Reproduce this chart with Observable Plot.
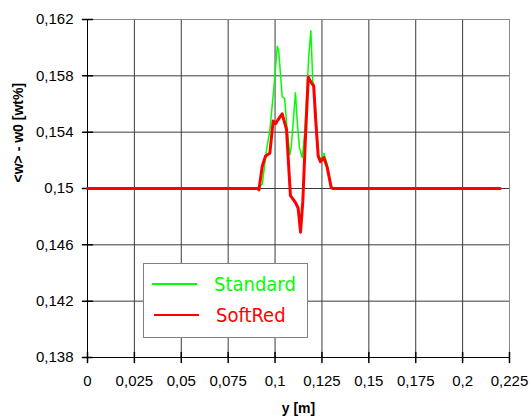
<!DOCTYPE html>
<html>
<head>
<meta charset="utf-8">
<script src="https://cdn.jsdelivr.net/npm/d3@7"></script>
<script src="https://cdn.jsdelivr.net/npm/@observablehq/plot@0.6"></script>
<style>
  html, body { margin: 0; padding: 0; background: #fff; }
  #wrap { position: relative; width: 531px; height: 416px; }
  #legend {
    position: absolute; left: 143px; top: 263px; width: 163px; height: 73px;
    border: 1px solid #808080; background: #fff; box-sizing: content-box;
    font-family: "DejaVu Sans Condensed", "DejaVu Sans", sans-serif; font-size: 20px;
  }
  #legend .row { position: absolute; left: 0; height: 24px; display: flex; align-items: center; }
  #legend .swatch { position: absolute; width: 45px; }
  #legend .txt { position: absolute; white-space: nowrap; line-height: 24px; }
</style>
</head>
<body>
<div id="wrap"></div>
<script>
// ---- data ----
const xTicks = [0, 0.025, 0.05, 0.075, 0.1, 0.125, 0.15, 0.175, 0.2, 0.225];
const yTicks = [0.138, 0.142, 0.146, 0.15, 0.154, 0.158, 0.162];
const xLabel = "y [m]";
const yLabel = "<w> - w0 [wt%]";
const seriesNames = ["Standard", "SoftRed"];
const seriesColors = ["#00ff00", "#ff0000"];

const standardX = [0, 0.0908, 0.0932, 0.0955, 0.0972, 0.0994, 0.1012, 0.1020, 0.1038, 0.1051, 0.1065, 0.1079, 0.1086, 0.1100, 0.1109, 0.1118, 0.1130, 0.1145, 0.1159, 0.1171, 0.1180, 0.1191, 0.1201, 0.1216, 0.1230, 0.1242, 0.1260, 0.1278, 0.1295, 0.1304, 0.22];
const standardY = [0.15, 0.15, 0.1503, 0.1528, 0.1541, 0.1572, 0.1601, 0.1597, 0.1565, 0.1564, 0.1541, 0.1524, 0.1529, 0.1553, 0.1568, 0.1548, 0.1529, 0.1522, 0.1541, 0.1572, 0.1595, 0.1612, 0.1576, 0.1557, 0.1524, 0.1521, 0.1525, 0.1517, 0.1503, 0.15, 0.15];

const softRedX = [0, 0.0908, 0.0914, 0.0932, 0.0949, 0.0972, 0.0990, 0.1003, 0.1012, 0.1038, 0.1061, 0.1082, 0.1109, 0.1123, 0.1136, 0.1148, 0.1162, 0.1177, 0.1194, 0.1206, 0.1216, 0.1230, 0.1242, 0.1260, 0.1278, 0.1299, 0.1308, 0.22];
const softRedY = [0.15, 0.15, 0.1499, 0.1516, 0.1523, 0.1525, 0.1548, 0.1546, 0.1548, 0.1553, 0.1542, 0.1495, 0.1490, 0.1486, 0.1469, 0.1491, 0.1536, 0.1579, 0.1575, 0.1573, 0.1550, 0.1523, 0.1519, 0.1522, 0.1515, 0.1501, 0.15, 0.15];

// ---- build ----
const standard = standardX.map((x, i) => ({x, y: standardY[i]}));
const softRed = softRedX.map((x, i) => ({x, y: softRedY[i]}));
const xDomain = [xTicks[0], xTicks[xTicks.length - 1]];
const yDomain = [yTicks[0], yTicks[yTicks.length - 1]];
const fmt = d => String(d).replace(".", ",");
const tickShape = { draw(context, l) { context.moveTo(0, 0); context.lineTo(0, -l); } };
const tickFont = "'Liberation Sans', Arial, sans-serif";

const chart = Plot.plot({
  width: 531,
  height: 416,
  marginLeft: 87,
  marginRight: 22,
  marginTop: 19,
  marginBottom: 59,
  style: { background: "#fff", color: "#000" },
  x: { domain: xDomain, axis: null },
  y: { domain: yDomain, axis: null },
  marks: [
    Plot.gridX(xTicks, { stroke: "#3a3a3a", strokeOpacity: 1 }),
    Plot.gridY(yTicks, { stroke: "#3a3a3a", strokeOpacity: 1 }),
    Plot.frame({ stroke: "#8a8a8a" }),
    Plot.ruleX([xDomain[0]], { stroke: "#000" }),
    Plot.ruleY([yDomain[0]], { stroke: "#000" }),
    Plot.vector(xTicks, { x: d => d, y: yDomain[0], length: 10, rotate: 0, anchor: "middle", shape: tickShape, stroke: "#000" }),
    Plot.vector(yTicks, { x: xDomain[0], y: d => d, length: 10, rotate: 90, anchor: "middle", shape: tickShape, stroke: "#000" }),
    Plot.axisX(xTicks, { tickSize: 0, tickPadding: 18, tickFormat: fmt, fontSize: 15, fontFamily: tickFont, label: null }),
    Plot.axisY(yTicks, { tickSize: 0, tickPadding: 14, tickFormat: fmt, fontSize: 15, fontFamily: tickFont, label: null }),
    Plot.text([xLabel], { frameAnchor: "bottom", dy: 51, lineAnchor: "middle", fontWeight: "bold", fontSize: 14, fontFamily: tickFont }),
    Plot.text([yLabel], { frameAnchor: "left", dx: -69, dy: -6, rotate: -90, fontWeight: "bold", fontSize: 14, fontFamily: tickFont }),
    Plot.line(standard, { x: "x", y: "y", stroke: seriesColors[0], strokeWidth: 1.5 }),
    Plot.line(softRed, { x: "x", y: "y", stroke: seriesColors[1], strokeWidth: 3 })
  ]
});

const wrap = document.getElementById("wrap");
wrap.appendChild(chart);

// legend overlay
const legend = document.createElement("div");
legend.id = "legend";
const rows = [{top: 8, lineLeft: 8, txtLeft: 70}, {top: 39, lineLeft: 10, txtLeft: 72}];
seriesNames.forEach((name, i) => {
  const sw = document.createElement("div");
  sw.className = "swatch";
  sw.style.left = rows[i].lineLeft + "px";
  sw.style.top = (rows[i].top + 11) + "px";
  sw.style.borderTop = (i === 0 ? 2 : 2.5) + "px solid " + seriesColors[i];
  legend.appendChild(sw);
  const t = document.createElement("div");
  t.className = "txt";
  t.style.left = rows[i].txtLeft + "px";
  t.style.top = rows[i].top + "px";
  t.style.color = seriesColors[i];
  t.textContent = name;
  legend.appendChild(t);
});
wrap.appendChild(legend);
</script>
</body>
</html>
